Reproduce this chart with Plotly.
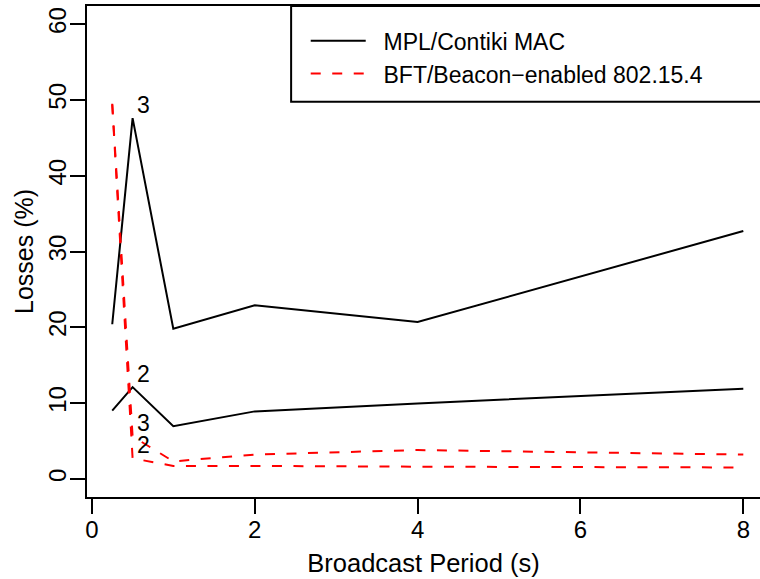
import plotly.graph_objects as go

# ---- data ----
period = [0.25, 0.5, 1, 2, 4, 8]
mpl_3 = [20.4, 47.6, 19.8, 22.9, 20.7, 32.7]
mpl_2 = [9.0, 12.1, 6.95, 8.9, 9.95, 11.9]
bft_3 = [49.5, 5.6, 2.3, 3.2, 3.8, 3.2]
bft_2 = [49.4, 2.7, 1.7, 1.7, 1.6, 1.5]

series_names = ["MPL/Contiki MAC", "BFT/Beacon\u2212enabled 802.15.4"]
label_x = 0.5
x_ticks = [0, 2, 4, 6, 8]
y_ticks = [0, 10, 20, 30, 40, 50, 60]

FONT = "Liberation Sans, Arial, Helvetica, sans-serif"
RED = "#FF0000"
DASH = "10px,11.5px"
PAD = "\u00a0\u00a0"  # gap between legend key and legend text

fig = go.Figure()
fig.add_trace(go.Scatter(x=period, y=mpl_3, mode="lines", name=PAD + series_names[0],
                         legendgroup="mpl", line=dict(color="black", width=2)))
fig.add_trace(go.Scatter(x=period, y=mpl_2, mode="lines", name=PAD + series_names[0],
                         legendgroup="mpl", showlegend=False, line=dict(color="black", width=2)))
fig.add_trace(go.Scatter(x=period, y=bft_3, mode="lines", name=PAD + series_names[1],
                         legendgroup="bft", line=dict(color=RED, width=2, dash=DASH)))
fig.add_trace(go.Scatter(x=period, y=bft_2, mode="lines", name=PAD + series_names[1],
                         legendgroup="bft", showlegend=False, line=dict(color=RED, width=2, dash=DASH)))

# point labels ("3"/"2") at the 0.5 s point of each curve
i = period.index(label_x)
for series, lab in [(mpl_3, "3"), (mpl_2, "2"), (bft_3, "3"), (bft_2, "2")]:
    fig.add_annotation(x=label_x, y=series[i], text=lab, showarrow=False,
                       xref="x", yref="y", xshift=10.6, yshift=13.3,
                       font=dict(family=FONT, size=23, color="black"))

# legend frame
fig.add_shape(type="rect", xref="paper", yref="paper", x0=0.3033, x1=1.02, y0=0.805, y1=1.0,
              line=dict(color="black", width=2), fillcolor="white", layer="below")

fig.update_layout(
    width=760, height=579,
    margin=dict(l=87, r=0, t=6, b=82, autoexpand=False),
    paper_bgcolor="white", plot_bgcolor="white",
    font=dict(family=FONT, size=24, color="black"),
    showlegend=True,
    legend=dict(x=0.325, y=0.973, xanchor="left", yanchor="top",
                bgcolor="rgba(0,0,0,0)", borderwidth=0,
                font=dict(family=FONT, size=23), itemwidth=55,
                tracegroupgap=0),
    xaxis=dict(range=[-0.06, 8.205], tickvals=x_ticks, ticktext=[str(v) for v in x_ticks],
               automargin=False, ticklabelstandoff=-5,
               showline=True, linecolor="black", linewidth=2, mirror=True,
               ticks="outside", ticklen=15, tickwidth=2, tickcolor="black",
               showgrid=False, zeroline=False,
               title=dict(text="Broadcast Period (s)", standoff=12, font=dict(size=25.5))),
    yaxis=dict(range=[-2.4, 62.4], tickvals=y_ticks, ticktext=[str(v) for v in y_ticks],
               tickangle=-90, automargin=False, ticklabelstandoff=-6,
               showline=True, linecolor="black", linewidth=2, mirror=False,
               ticks="outside", ticklen=15, tickwidth=2, tickcolor="black",
               showgrid=False, zeroline=False,
               title=dict(text="Losses (%)", standoff=4, font=dict(size=25))),
)

fig.write_html("out.html", config={"displayModeBar": False},
               post_script="document.body.style.margin='0';")
